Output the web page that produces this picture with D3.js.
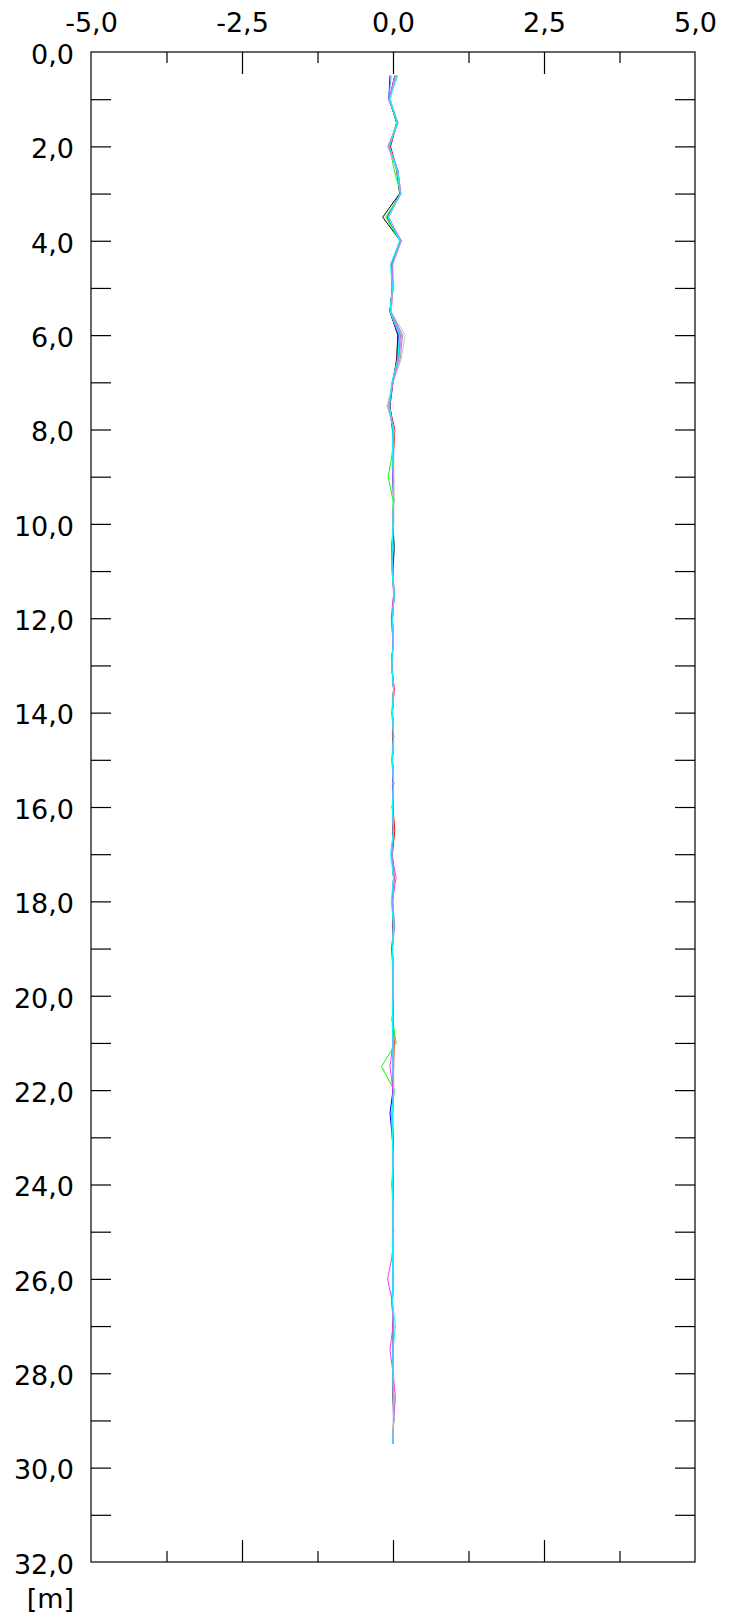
<!DOCTYPE html>
<html>
<head>
<meta charset="utf-8">
<script src="https://cdn.jsdelivr.net/npm/d3@7"></script>
<style>
  html, body { margin: 0; padding: 0; background: #fff; }
  svg { display: block; }
  text { font-family: "DejaVu Sans", Verdana, sans-serif; fill: #000; }
</style>
</head>
<body>
<svg id="chart" width="736" height="1618"></svg>
<script>
// ---- data ----
const depths = [0.5,1.0,1.5,2.0,2.5,3.0,3.5,4.0,4.5,5.0,
  5.5,6.0,6.5,7.0,7.5,8.0,8.5,9.0,9.5,10.0,
  10.5,11.0,11.5,12.0,12.5,13.0,13.5,14.0,14.5,15.0,
  15.5,16.0,16.5,17.0,17.5,18.0,18.5,19.0,19.5,20.0,
  20.5,21.0,21.5,22.0,22.5,23.0,23.5,24.0,24.5,25.0,
  25.5,26.0,26.5,27.0,27.5,28.0,28.5,29.0,29.5];

const xTickLabels = [-5, -2.5, 0, 2.5, 5];
const xMinorTicks = [-3.75, -1.25, 1.25, 3.75];
const yTickLabels = [0,2,4,6,8,10,12,14,16,18,20,22,24,26,28,30,32];
const yTicks = [1,2,3,4,5,6,7,8,9,10,11,12,13,14,15,16,17,18,19,20,21,22,23,24,25,26,27,28,29,30,31];
const unitLabel = "[m]";

const seriesBlack = [0.03,-0.06,0.06,-0.05,0.06,0.11,-0.17,0.12,-0.02,-0.01,
  -0.05,0.08,0.06,0.00,-0.05,0.00,-0.01,0.00,0.01,0.00,
  0.02,0.00,0.01,-0.01,0.00,-0.02,0.01,-0.01,0.00,-0.01,
  0.01,-0.01,0.00,-0.02,0.01,-0.01,0.00,-0.01,0.00,0.00,
  -0.01,0.00,0.01,0.00,-0.01,0.00,0.00,-0.01,0.00,0.00,
  0.00,0.00,-0.01,0.00,0.00,0.00,0.00,0.01,0.00];
const seriesRed = [0.05,-0.05,0.07,-0.04,0.07,0.12,-0.10,0.12,-0.02,-0.01,
  -0.05,0.09,0.07,-0.01,-0.06,0.03,0.01,0.01,0.01,0.00,
  -0.01,0.00,0.02,-0.02,0.00,-0.02,0.02,-0.01,0.01,-0.01,
  0.01,0.00,0.03,-0.01,0.02,-0.01,0.01,-0.01,0.00,0.01,
  0.00,0.02,0.01,0.01,-0.01,-0.01,0.00,-0.01,0.00,0.01,
  -0.01,0.00,-0.02,0.01,0.00,0.01,0.01,0.01,0.00];
const seriesBlue = [-0.05,-0.07,0.07,-0.07,0.07,0.12,-0.09,0.12,-0.03,-0.01,
  -0.05,0.09,0.08,-0.01,-0.06,-0.01,0.00,0.00,0.01,0.01,
  -0.02,-0.01,0.02,-0.01,0.00,-0.02,0.01,-0.01,0.01,-0.01,
  0.00,-0.01,0.01,-0.02,0.01,-0.01,0.01,-0.02,0.00,0.00,
  -0.01,0.00,0.00,0.00,-0.05,-0.01,0.00,0.00,0.00,0.00,
  -0.01,0.00,-0.01,0.01,0.00,0.00,0.01,0.01,0.00];
const seriesLime = [0.06,-0.06,0.06,-0.06,0.02,0.13,-0.12,0.11,-0.02,-0.01,
  -0.04,0.12,0.09,-0.01,-0.07,0.00,-0.01,-0.08,0.00,0.00,
  -0.01,-0.01,0.02,-0.01,0.00,-0.02,0.01,-0.01,0.01,-0.01,
  0.01,-0.01,0.01,-0.02,0.01,0.00,0.01,-0.01,0.00,0.00,
  -0.01,0.05,-0.19,0.02,-0.01,-0.01,0.00,-0.01,0.00,0.00,
  -0.01,0.01,-0.01,0.01,0.00,0.00,0.01,0.01,0.00];
const seriesMagenta = [0.03,-0.06,0.08,-0.07,0.08,0.13,-0.08,0.14,-0.01,0.00,
  -0.04,0.12,0.09,0.00,-0.06,0.01,-0.01,0.00,0.01,0.00,
  -0.02,-0.01,0.01,-0.03,0.00,-0.02,0.01,-0.02,0.01,-0.02,
  0.01,-0.01,0.01,-0.02,0.05,-0.01,0.01,-0.01,0.00,0.00,
  -0.01,0.00,-0.05,0.00,-0.01,-0.01,0.00,0.00,0.00,0.00,
  -0.01,-0.09,-0.01,0.00,-0.05,0.00,0.04,0.01,0.00];
const seriesGray = [0.04,-0.05,0.07,-0.08,0.06,0.12,-0.07,0.12,-0.01,0.00,
  -0.03,0.16,0.12,0.00,-0.09,0.01,0.00,0.01,0.01,0.00,
  -0.01,-0.01,0.02,-0.01,0.00,-0.02,0.01,-0.01,0.01,-0.01,
  0.01,-0.01,0.01,-0.02,0.01,-0.01,0.01,-0.01,0.00,0.00,
  -0.01,0.00,0.00,0.01,0.00,-0.01,0.00,-0.01,0.00,0.01,
  0.00,0.00,-0.01,0.01,0.00,0.00,0.01,0.01,0.00];
const seriesSilver = [0.05,-0.04,0.08,-0.09,0.07,0.13,-0.07,0.13,0.00,0.00,
  -0.03,0.20,0.14,0.00,-0.10,0.02,0.00,0.01,0.01,0.00,
  -0.01,0.00,0.02,-0.01,0.00,-0.02,0.01,-0.01,0.01,-0.01,
  0.01,-0.01,0.01,-0.02,0.01,-0.01,0.01,-0.01,0.00,0.00,
  -0.01,0.00,0.00,0.01,0.00,-0.01,0.00,-0.01,0.00,0.00,
  0.00,0.00,-0.01,0.01,0.00,0.00,0.01,0.00,-0.01];
const seriesViolet = [0.04,-0.06,0.08,-0.08,0.08,0.13,-0.08,0.13,-0.01,0.00,
  -0.04,0.14,0.10,0.00,-0.07,0.01,0.00,0.01,0.01,0.00,
  -0.01,-0.01,0.02,-0.01,0.00,-0.02,0.01,-0.01,0.01,-0.01,
  0.01,-0.01,0.01,-0.02,0.02,-0.01,0.01,-0.01,0.00,0.00,
  -0.01,0.00,0.00,0.01,-0.01,-0.01,0.00,-0.02,0.00,0.00,
  -0.01,0.00,-0.01,0.01,0.00,0.00,0.01,0.01,0.00];
const seriesLightBlue = [-0.03,-0.07,0.08,-0.06,0.08,0.12,-0.09,0.12,-0.02,-0.01,
  -0.05,0.10,0.08,-0.01,-0.06,0.00,0.00,0.00,0.01,0.00,
  -0.01,-0.01,0.02,-0.01,0.00,-0.02,0.01,-0.01,0.01,-0.01,
  0.01,-0.01,0.01,-0.02,0.01,-0.01,0.03,-0.01,0.00,0.00,
  -0.01,0.00,0.00,0.01,-0.02,-0.01,0.00,-0.01,0.00,0.00,
  -0.01,0.00,-0.01,0.01,0.00,0.00,0.01,0.01,0.00];
const seriesCyan = [0.08,-0.06,0.07,-0.06,0.07,0.12,-0.08,0.11,-0.04,-0.01,
  -0.05,0.11,0.08,-0.02,-0.06,0.00,-0.01,0.01,0.01,0.00,
  -0.01,-0.02,0.02,-0.01,0.01,-0.02,0.01,-0.01,0.01,-0.01,
  0.01,-0.01,0.01,-0.04,0.01,-0.03,0.01,-0.01,0.00,0.00,
  -0.01,0.00,0.00,0.01,-0.01,-0.01,0.00,-0.01,0.00,0.00,
  -0.01,0.00,-0.01,0.04,0.00,0.00,0.01,0.01,0.00];

// drawing order: first drawn lies underneath
const seriesNames = ["black","red","blue","lime","magenta","gray","silver","violet","lightblue","cyan"];
const seriesValues = [seriesBlack, seriesRed, seriesBlue, seriesLime, seriesMagenta,
  seriesGray, seriesSilver, seriesViolet, seriesLightBlue, seriesCyan];
const seriesColors = ["#000000","#ff0000","#0000ff","#00ff00","#ff33ff","#9a9a9a","#c8c8c8","#cc77ff","#7799ff","#00ffff"];

// ---- layout ----
const mLeft = 91, mRight = 695, mTop = 52, mBottom = 1562;
const svg = d3.select("#chart");

const x = d3.scaleLinear().domain([-5, 5]).range([mLeft, mRight]);
const y = d3.scaleLinear().domain([0, 32]).range([mTop, mBottom]);
const fmt = v => d3.format(".1f")(v).replace(".", ",").replace("\u2212", "-");

// data lines (clipped to plot)
svg.append("clipPath").attr("id", "clip").append("rect")
  .attr("x", mLeft).attr("y", mTop).attr("width", mRight - mLeft).attr("height", mBottom - mTop);

const line = d3.line().x(d => x(d[1])).y(d => y(d[0]));
const gLines = svg.append("g").attr("clip-path", "url(#clip)");
seriesValues.forEach((vals, i) => {
  gLines.append("path")
    .datum(depths.map((d, j) => [d, vals[j]]))
    .attr("fill", "none")
    .attr("stroke", seriesColors[i])
    .attr("stroke-width", 1)
    .attr("d", line);
});

// frame
svg.append("rect")
  .attr("x", mLeft).attr("y", mTop).attr("width", mRight - mLeft).attr("height", mBottom - mTop)
  .attr("fill", "none").attr("stroke", "#000").attr("stroke-width", 1.2);

// top & bottom inward ticks
function styleTicks(g) {
  g.select(".domain").remove();
  g.selectAll(".tick line").attr("stroke", "#000").attr("stroke-width", 1.2);
  g.selectAll(".tick text").remove();
}
svg.append("g").attr("transform", `translate(0,${mTop})`)
  .call(d3.axisBottom(x).tickValues(xTickLabels.slice(1, -1)).tickSize(22)).call(styleTicks);
svg.append("g").attr("transform", `translate(0,${mTop})`)
  .call(d3.axisBottom(x).tickValues(xMinorTicks).tickSize(11)).call(styleTicks);
svg.append("g").attr("transform", `translate(0,${mBottom})`)
  .call(d3.axisTop(x).tickValues(xTickLabels.slice(1, -1)).tickSize(22)).call(styleTicks);
svg.append("g").attr("transform", `translate(0,${mBottom})`)
  .call(d3.axisTop(x).tickValues(xMinorTicks).tickSize(11)).call(styleTicks);

// left & right inward ticks
svg.append("g").attr("transform", `translate(${mLeft},0)`)
  .call(d3.axisRight(y).tickValues(yTicks).tickSize(20)).call(styleTicks);
svg.append("g").attr("transform", `translate(${mRight},0)`)
  .call(d3.axisLeft(y).tickValues(yTicks).tickSize(20)).call(styleTicks);

// top labels
const gTop = svg.append("g").attr("transform", `translate(0,${mTop})`)
  .call(d3.axisTop(x).tickValues(xTickLabels).tickSize(0).tickPadding(20).tickFormat(fmt));
gTop.select(".domain").remove();
gTop.selectAll(".tick text").style("font-size", "27px").attr("font-family", "DejaVu Sans");

// left labels
const gLeft = svg.append("g").attr("transform", `translate(${mLeft},0)`)
  .call(d3.axisLeft(y).tickValues(yTickLabels).tickSize(0).tickPadding(17).tickFormat(fmt));
gLeft.select(".domain").remove();
gLeft.selectAll(".tick text").style("font-size", "27px").attr("font-family", "DejaVu Sans").attr("dy", "0.42em");

// unit label
svg.append("text")
  .attr("x", mLeft - 17).attr("y", 1608)
  .attr("text-anchor", "end")
  .style("font-size", "27px")
  .text(unitLabel);
</script>
</body>
</html>
